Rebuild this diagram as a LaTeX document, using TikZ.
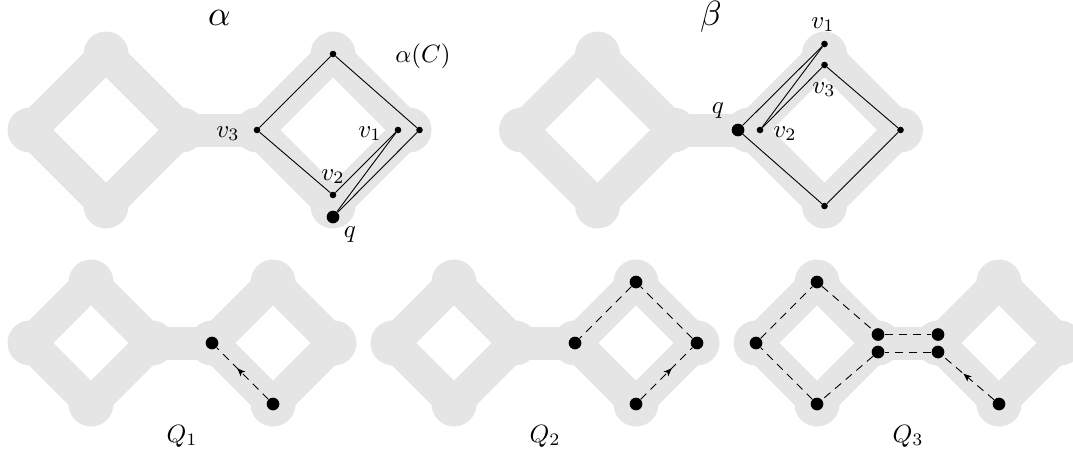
\documentclass[tikz,border=0pt]{standalone}
\usetikzlibrary{arrows.meta,decorations.markings}
\definecolor{greyfill}{RGB}{229,229,229}
\tikzset{
  band/.style={draw=greyfill,line width=33pt,line join=round},
  sdot/.style={circle,fill=black,inner sep=0pt,minimum size=6.6pt},
  bdot/.style={circle,fill=black,inner sep=0pt,minimum size=12.7pt},
  edge/.style={draw=black,line width=0.9pt},
  dedge/.style={draw=black,line width=0.9pt,dash pattern=on 8pt off 6pt},
  lbl/.style={anchor=base,inner sep=0pt,scale=2.5},
  biglbl/.style={anchor=base,inner sep=0pt,scale=3.5},
  midarrow/.style={postaction={decorate},decoration={markings,
    mark=at position #1 with {\arrow{Stealth[length=8pt,width=6.5pt,inset=2pt]}}}},
  midarrow/.default=0.55
}
\newcommand\greydia[3]{%
  \draw[band] ({#1-#3},#2) -- (#1,{#2-#3}) -- ({#1+#3},#2) -- (#1,{#2+#3}) -- cycle;
  \fill[greyfill] ({#1-#3},#2) circle[radius=22.5pt];
  \fill[greyfill] ({#1+#3},#2) circle[radius=22.5pt];
  \fill[greyfill] (#1,{#2-#3}) circle[radius=22.5pt];
  \fill[greyfill] (#1,{#2+#3}) circle[radius=22.5pt];
}
\newcommand\greypair[4]{%
  \draw[band] ({#1+#3},#2) -- ({#1+#4-#3},#2);
  \greydia{#1}{#2}{#3}
  \greydia{#1+#4}{#2}{#3}
}
\begin{document}
\begin{tikzpicture}[x=1pt,y=-1pt]
\useasboundingbox (0,0) rectangle (1073,455);
\clip (0,0) rectangle (1073,455);
% grey shapes
\greypair{106}{130}{76}{227}
\greypair{597.5}{130}{76}{227}
\greypair{91}{343}{61}{182}
\greypair{454}{343}{61}{182}
\greypair{817}{343}{61}{182}

% ---- alpha ----
\node[sdot] (atop) at (333,54) {};
\node[sdot] (av3) at (257,130) {};
\node[sdot] (aright) at (419.5,130) {};
\node[sdot] (av1) at (398,130) {};
\node[sdot] (av2) at (333,195) {};
\node[bdot] (aq) at (333,217) {};
\draw[edge] (av3) -- (atop);
\draw[edge] (atop) -- (aright);
\draw[edge] (aright) -- (aq);
\draw[edge] (aq) -- (av1);
\draw[edge] (av1) -- (av2);
\draw[edge] (av2) -- (av3);
\node[biglbl] (alab) at (219.5,25) {$\alpha$};
\node[lbl] (aClab) at (423,62) {$\alpha(C)$};
\node[lbl] (av3lab) at (228,137) {$v_3$};
\node[lbl] (av1lab) at (370,137) {$v_1$};
\node[lbl] (av2lab) at (333,180) {$v_2$};
\node[lbl] (aqlab) at (350,237) {$q$};

% ---- beta ----
\node[sdot] (bv1) at (824.5,44) {};
\node[sdot] (bv3) at (824.5,65) {};
\node[bdot] (bq) at (738,130) {};
\node[sdot] (bv2) at (760,130) {};
\node[sdot] (bright) at (900.5,130) {};
\node[sdot] (bbot) at (824.5,206) {};
\draw[edge] (bq) -- (bv1);
\draw[edge] (bv1) -- (bv2);
\draw[edge] (bv2) -- (bv3);
\draw[edge] (bv3) -- (bright);
\draw[edge] (bright) -- (bbot);
\draw[edge] (bbot) -- (bq);
\node[biglbl] (blab) at (711,25) {$\beta$};
\node[lbl] (bv1lab) at (823,28) {$v_1$};
\node[lbl] (bv3lab) at (824,93) {$v_3$};
\node[lbl] (bqlab) at (718,113) {$q$};
\node[lbl] (bv2lab) at (785,137) {$v_2$};

% ---- Q1 ----
\node[bdot] (c1) at (212,343) {};
\node[bdot] (c2) at (273,404) {};
\draw[dedge,midarrow=0.6] (c2) -- (c1);
\node[lbl] (q1lab) at (182,442) {$Q_1$};

% ---- Q2 ----
\node[bdot] (dleft) at (575,343) {};
\node[bdot] (dtop) at (636,282) {};
\node[bdot] (dright) at (697,343) {};
\node[bdot] (dbot) at (636,404) {};
\draw[dedge,midarrow=0.6] (dbot) -- (dright);
\draw[dedge] (dright) -- (dtop);
\draw[dedge] (dtop) -- (dleft);
\node[lbl] (q2lab) at (545,442) {$Q_2$};

% ---- Q3 ----
\node[bdot] (eleft) at (756,343) {};
\node[bdot] (etop) at (817,282) {};
\node[bdot] (ebot) at (817,404) {};
\node[bdot] (eul) at (878,334.5) {};
\node[bdot] (ell) at (878,352) {};
\node[bdot] (eur) at (938,334.5) {};
\node[bdot] (elr) at (938,352) {};
\node[bdot] (erb) at (999,404) {};
\draw[dedge,midarrow=0.6] (erb) -- (elr);
\draw[dedge] (elr) -- (ell);
\draw[dedge] (ell) -- (ebot);
\draw[dedge] (ebot) -- (eleft);
\draw[dedge] (eleft) -- (etop);
\draw[dedge] (etop) -- (eul);
\draw[dedge] (eul) -- (eur);
\node[lbl] (q3lab) at (908,442) {$Q_3$};
\end{tikzpicture}
\end{document}
